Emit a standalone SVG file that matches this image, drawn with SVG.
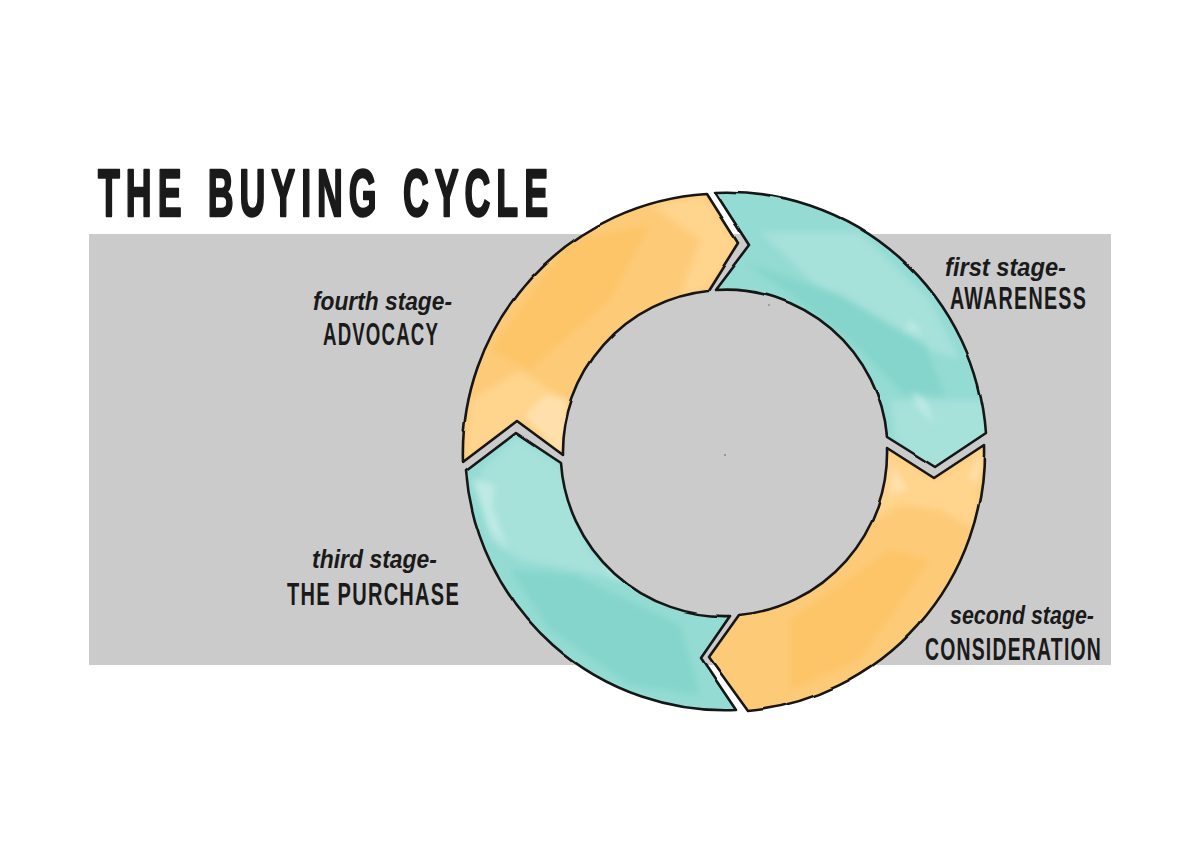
<svg xmlns="http://www.w3.org/2000/svg" xmlns:xlink="http://www.w3.org/1999/xlink" width="1200" height="848" viewBox="0 0 1200 848">
<style>
.o{fill:none;stroke:#161616;stroke-width:2.6;stroke-linejoin:round;filter:url(#rough)}
.t{fill:#93dbd3}.y{fill:#fdca78}
.tl{fill:#a6e1da}.td{fill:#85d5cc}.tx{fill:#bfeae5}
.yl{fill:#ffd48c}.yx{fill:#ffe0ac}.yd{fill:#fdc568}
.w{filter:url(#soft)}
text{fill:#1a1a1a;font-family:"Liberation Sans",Arial,sans-serif}
.ttl{font-size:66px;font-weight:700;stroke:#1a1a1a;stroke-width:2.4px;stroke-linejoin:round;letter-spacing:11px}
.lo{font-style:italic;font-weight:700;font-size:26px}
.up{font-weight:700;font-size:32px;letter-spacing:2px}
</style>
<defs>
<filter id="soft" x="-10%" y="-10%" width="120%" height="120%"><feGaussianBlur stdDeviation="3"/></filter>
<filter id="rough" x="-5%" y="-5%" width="110%" height="110%" color-interpolation-filters="sRGB"><feTurbulence type="fractalNoise" baseFrequency="0.02" numOctaves="1" seed="4"/><feDisplacementMap in="SourceGraphic" scale="3" xChannelSelector="R" yChannelSelector="G"/></filter>
<path id="s1" d="M715 192A260 260 0 0 1 986 433L935 467L887 437A162 162 0 0 0 715 290L749 245Z"/>
<path id="s2" d="M984 445A260 260 0 0 1 748 711L709 657L739 615A163 163 0 0 0 887 448L934 478Z"/>
<path id="s3" d="M736 710A260 260 0 0 1 466 471L516 433L561 463A164 164 0 0 0 730 616L701 658Z"/>
<path id="s4" d="M463 462A260 260 0 0 1 707 194L738 243L708 291A162 162 0 0 0 563 455L517 421Z"/>
<clipPath id="c1"><use xlink:href="#s1"/></clipPath>
<clipPath id="c2"><use xlink:href="#s2"/></clipPath>
<clipPath id="c3"><use xlink:href="#s3"/></clipPath>
<clipPath id="c4"><use xlink:href="#s4"/></clipPath>
</defs>
<rect x="89" y="234" width="1022" height="431" fill="#cbcbcb"/>
<circle cx="725" cy="455" r="0.8" fill="#555"/>
<circle cx="769" cy="305" r="0.8" fill="#666"/>
<g id="stage1">
<use xlink:href="#s1" class="t"/>
<g clip-path="url(#c1)">
<path class="tl w" d="M760 232L860 232L930 300L960 360L900 340L820 290Z"/>
<path class="tl w" d="M890 400L985 400L990 440L935 475L895 440Z"/>
<path class="td w" d="M745 262L840 295L925 345L945 395L905 395L860 350L790 295Z"/>
<path class="tx w" d="M910 320L925 335L905 328Z M912 392L925 400L935 425L918 408Z"/>
</g>
<use xlink:href="#s1" class="o"/>
</g>
<g id="stage2">
<use xlink:href="#s2" class="y"/>
<g clip-path="url(#c2)">
<path class="yl w" d="M880 445L935 480L985 445L975 530L940 510L900 505L875 520Z"/>
<path class="yx w" d="M968 478L984 448L978 482Z M892 465L908 490L890 495Z"/>
<path class="yd w" d="M790 620L890 550L930 560L860 660L790 690Z"/>
</g>
<use xlink:href="#s2" class="o"/>
</g>
<g id="stage3">
<use xlink:href="#s3" class="t"/>
<g clip-path="url(#c3)">
<path class="tl w" d="M480 470L516 437L561 465L590 550L620 580L570 570L520 560L490 540Z"/>
<path class="tx w" d="M472 478L495 485L492 505L508 550L490 530Z M602 565L615 578L640 585L625 570Z"/>
<path class="td w" d="M510 570L575 575L680 625L700 695L630 685L550 630Z"/>
</g>
<use xlink:href="#s3" class="o"/>
</g>
<g id="stage4">
<use xlink:href="#s4" class="y"/>
<g clip-path="url(#c4)">
<path class="yl w" d="M650 205L705 195L738 245L708 288L680 295L700 240Z"/>
<path class="yl w" d="M470 400L520 370L565 400L560 455L520 420L465 460Z"/>
<path class="yx w" d="M525 415L545 395L568 400L563 458Z"/>
<path class="yd w" d="M490 350L570 240L650 225L610 300L530 370Z"/>
</g>
<use xlink:href="#s4" class="o"/>
</g>
<text class="ttl" x="98" y="216" textLength="456" lengthAdjust="spacingAndGlyphs" word-spacing="8">THE BUYING CYCLE</text>
<text class="lo" x="945" y="276" textLength="121" lengthAdjust="spacingAndGlyphs">first stage-</text>
<text class="up" x="950" y="309" textLength="137" lengthAdjust="spacingAndGlyphs">AWARENESS</text>
<text class="lo" x="950" y="624" textLength="144" lengthAdjust="spacingAndGlyphs">second stage-</text>
<text class="up" x="925" y="660" textLength="177" lengthAdjust="spacingAndGlyphs">CONSIDERATION</text>
<text class="lo" x="312" y="568" textLength="125" lengthAdjust="spacingAndGlyphs">third stage-</text>
<text class="up" x="287" y="605" textLength="173" lengthAdjust="spacingAndGlyphs">THE PURCHASE</text>
<text class="lo" x="313" y="310" textLength="139" lengthAdjust="spacingAndGlyphs">fourth stage-</text>
<text class="up" x="323" y="345" textLength="116" lengthAdjust="spacingAndGlyphs">ADVOCACY</text>
</svg>
